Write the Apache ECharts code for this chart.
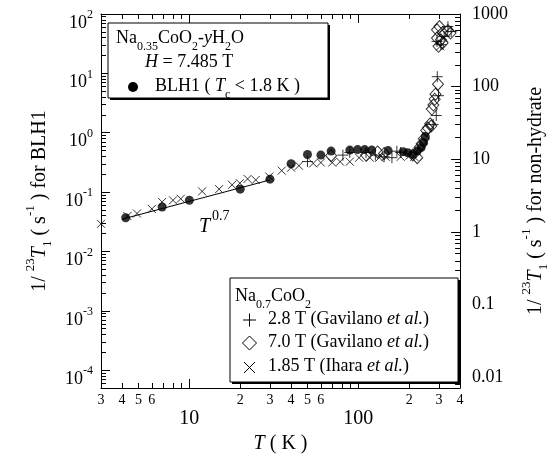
<!DOCTYPE html>
<html>
<head>
<meta charset="utf-8">
<script src="https://cdn.jsdelivr.net/npm/echarts@6.0.0/dist/echarts.min.js"></script>
<style>
  html, body { margin: 0; padding: 0; background: #fff; }
  #main { width: 558px; height: 459px; }
</style>
</head>
<body>
<div id="main"></div>
<script>
// ---- data (T in K, 1/T1 in s^-1) ----
// Na0.35CoO2-yH2O, BLH1 (left axis)
const blh1 = [
  [4.2, 0.037], [6.9, 0.056], [10, 0.073], [20, 0.112], [30, 0.165],
  [40, 0.30], [50, 0.43], [60, 0.42], [69, 0.49], [89, 0.51], [99, 0.52],
  [109, 0.52], [120, 0.51], [150, 0.50], [184, 0.48], [196, 0.46],
  [210, 0.43], [223, 0.49], [235, 0.56], [243, 0.68], [249, 0.86]
];
// T^0.7 guide line (left axis), end points
const fitLine = [[4.0, 0.035], [30, 0.16]];
// Na0.7CoO2 (right axis)
const gav28 = [
  [50, 9.3], [81, 11.4], [89, 12.4], [111, 12.4], [126, 11.4], [142, 10.8],
  [158, 10.5], [169, 12.9], [178, 12.4], [277, 30], [289, 40], [298, 75],
  [293, 137], [292, 420], [308, 378], [322, 491], [339, 671], [354, 574]
];
const gav70 = [
  [69, 11.2], [111, 11.4], [130, 12.6], [142, 12], [210, 11.4], [223, 10.5],
  [230, 14.5], [237, 16.4], [244, 19.2], [252, 24.9], [258, 26.9], [266, 30.7],
  [270, 28.6], [272, 49], [278, 55.8], [283, 67], [286, 78.7], [296, 108],
  [292, 605], [302, 671], [315, 556], [339, 592], [351, 546], [292, 467],
  [308, 442], [298, 359], [315, 399]
];
const ihara = [
  [3, 1.29], [4.3, 1.65], [4.9, 1.79], [6.0, 2.07], [6.9, 2.58], [8.0, 2.72],
  [8.9, 2.86], [11.9, 3.61], [15, 3.88], [17.9, 4.44], [19.9, 4.68],
  [22.1, 5.36], [24.7, 5.19], [29.7, 5.78], [35.2, 6.97], [40, 7.66],
  [44.5, 8.15], [54, 8.77], [60, 9.0], [70, 9.0], [78, 9.25], [89, 9.25],
  [101, 10.5], [117, 10.5], [133, 10.5], [145, 10.8], [178, 10.8],
  [201, 11.2], [214, 10.8], [305, 359], [322, 467]
];

// ---- axis ticks / labels ----
const xRange = [3, 400];
const xMinorLabels = [3, 4, 5, 6, 20, 30, 40, 50, 60, 200, 300, 400];
const xMajorLabels = [10, 100];
const leftRange = [Math.pow(10, -4.3), 100];
const leftLabels = [1e-4, 1e-3, 1e-2, 1e-1, 1, 10, 100];
const rightRange = [Math.pow(10, -2.15), 1000];
const rightLabels = [0.01, 0.1, 1, 10, 100, 1000];

const serif = 'Liberation Serif';

// minor tick positions 2..9 x 10^n inside a range
function minorTicks(range) {
  const out = [];
  const lo = Math.floor(Math.log10(range[0]));
  const hi = Math.ceil(Math.log10(range[1]));
  for (let e = lo; e <= hi; e++) {
    for (let k = 1; k <= 9; k++) {
      const v = k * Math.pow(10, e);
      if (v >= range[0] && v <= range[1]) out.push(v);
    }
  }
  return out;
}

const expOf = v => Math.round(Math.log10(v));

const supRich = {
  b: { fontFamily: serif, fontSize: 18, lineHeight: 18, padding: [9, 0, 0, 0], verticalAlign: 'top', color: '#000' },
  s: { fontFamily: serif, fontSize: 12, lineHeight: 12, padding: [4, 0, 0, 0], verticalAlign: 'top', color: '#000' }
};

const nameRich = {
  n: { fontFamily: serif, fontSize: 20, lineHeight: 20, padding: [7, 0, 0, 0], verticalAlign: 'top', color: '#000' },
  i: { fontFamily: serif, fontSize: 20, lineHeight: 20, padding: [7, 0, 0, 0], verticalAlign: 'top', fontStyle: 'italic', color: '#000' },
  p: { fontFamily: serif, fontSize: 13, lineHeight: 13, padding: [1, 0, 0, 0], verticalAlign: 'top', color: '#000' },
  d: { fontFamily: serif, fontSize: 13, lineHeight: 13, padding: [18, 0, 0, 0], verticalAlign: 'top', color: '#000' }
};

const boxRich = {
  n: { fontFamily: serif, fontSize: 18, lineHeight: 20, verticalAlign: 'top', fill: '#000' },
  i: { fontFamily: serif, fontSize: 18, lineHeight: 20, verticalAlign: 'top', fontStyle: 'italic', fill: '#000' },
  d: { fontFamily: serif, fontSize: 12, lineHeight: 12, padding: [12, 0, 0, 0], verticalAlign: 'top', fill: '#000' },
  p: { fontFamily: serif, fontSize: 14, lineHeight: 14, padding: [0, 0, 0, 2], verticalAlign: 'top', fill: '#000' },
  t: { fontFamily: serif, fontSize: 20, lineHeight: 20, padding: [8, 0, 0, 0], verticalAlign: 'top', fontStyle: 'italic', fill: '#000' }
};

const line = { lineStyle: { color: '#000', width: 1 } };

function xAxisDef(pos, major, withLabels) {
  return {
    type: 'log', min: xRange[0], max: xRange[1], position: pos,
    axisLine: { show: !major, ...line },
    axisTick: { show: true, inside: true, length: major ? 9 : 5, lineStyle: { color: '#000' },
      customValues: major ? xMajorLabels : minorTicks(xRange) },
    axisLabel: withLabels ? (major ? {
      customValues: xMajorLabels, margin: 21, fontFamily: serif, fontSize: 20, color: '#000'
    } : {
      customValues: xMinorLabels, margin: 5, fontFamily: serif, fontSize: 14, color: '#000',
      formatter: v => String(Math.round(v / Math.pow(10, Math.floor(Math.log10(v) + 1e-9))))
    }) : { show: false },
    splitLine: { show: false }
  };
}

function yAxisDef(pos, range, labels, major, withLabels) {
  const base = {
    type: 'log', min: range[0], max: range[1], position: pos,
    axisLine: { show: !major, ...line },
    axisTick: { show: true, inside: true, length: major ? 9 : 5, lineStyle: { color: '#000' },
      customValues: major ? labels : minorTicks(range) },
    axisLabel: { show: false },
    splitLine: { show: false }
  };
  if (withLabels) {
    if (pos === 'left') {
      base.axisLabel = {
        customValues: labels, margin: 8, rich: supRich,
        formatter: v => '{b|10}{s|' + expOf(v) + '}'
      };
      base.name = '{n|1/ }{p|23}{i|T}{d|1}{n| ( s}{p|-1}{n| ) for BLH1}';
      base.nameGap = 56;
    } else {
      base.axisLabel = {
        customValues: labels, margin: 12, fontFamily: serif, fontSize: 18, color: '#000',
        formatter: v => { const e = expOf(v); return e < 0 ? v.toFixed(-e) : String(Math.pow(10, e)); }
      };
      base.name = '{n|1/ }{p|23}{i|T}{d|1}{n| ( s}{p|-1}{n| ) for non-hydrate}';
      base.nameGap = 50;
    }
    base.nameLocation = 'middle';
    base.nameTextStyle = { rich: nameRich };
  }
  return base;
}

const xAxes = [
  xAxisDef('bottom', false, true),
  xAxisDef('bottom', true, true),
  xAxisDef('top', false, false),
  xAxisDef('top', true, false)
];
xAxes[0].name = '{i|T}{n| ( K )}';
xAxes[0].nameLocation = 'middle';
xAxes[0].nameGap = 46;
xAxes[0].nameTextStyle = {
  rich: {
    n: { fontFamily: serif, fontSize: 20, color: '#000' },
    i: { fontFamily: serif, fontSize: 20, fontStyle: 'italic', color: '#000' }
  }
};

const yAxes = [
  yAxisDef('left', leftRange, leftLabels, false, true),
  yAxisDef('left', leftRange, leftLabels, true, false),
  yAxisDef('right', rightRange, rightLabels, false, true),
  yAxisDef('right', rightRange, rightLabels, true, false)
];

const plusPath = 'path://M0,5L10,5M5,0L5,10';
const crossPath = 'path://M0,0L10,10M10,0L0,10';
const openStyle = { color: 'rgba(0,0,0,0)', borderColor: '#000', borderWidth: 1 };

// legend box helpers
const stroke = { stroke: '#000', lineWidth: 1 };
function box(x, y, w, h) {
  return [
    { type: 'rect', z: 10, shape: { x: x + 2, y: y + 2, width: w, height: h }, style: { fill: '#000' } },
    { type: 'rect', z: 11, shape: { x: x, y: y, width: w, height: h }, style: { fill: '#fff', ...stroke } }
  ];
}
function txt(x, y, text) {
  return { type: 'text', z: 12, x: x, y: y - 10, style: { text: text, rich: boxRich, align: 'left', verticalAlign: 'top', fill: '#000' } };
}

const graphics = [].concat(
  box(108, 23, 220, 75),
  txt(116, 39, '{n|Na}{d|0.35}{n|CoO}{d|2}{n|-}{i|y}{n|H}{d|2}{n|O}'),
  txt(145, 63, '{i|H}{n| = 7.485 T}'),
  [{ type: 'circle', z: 12, shape: { cx: 133, cy: 87, r: 5 }, style: { fill: '#000' } }],
  txt(155, 87, '{n|BLH1 ( }{i|T}{d|c}{n| < 1.8 K )}'),
  box(230, 278, 228, 104),
  txt(235, 297, '{n|Na}{d|0.7}{n|CoO}{d|2}'),
  [
    { type: 'line', z: 12, shape: { x1: 243, y1: 320, x2: 256, y2: 320 }, style: stroke },
    { type: 'line', z: 12, shape: { x1: 249.5, y1: 313.5, x2: 249.5, y2: 326.5 }, style: stroke },
    { type: 'polygon', z: 12, shape: { points: [[249.5, 336], [256.5, 343], [249.5, 350], [242.5, 343]] }, style: { fill: 'none', ...stroke } },
    { type: 'line', z: 12, shape: { x1: 244, y1: 362, x2: 255, y2: 373 }, style: stroke },
    { type: 'line', z: 12, shape: { x1: 255, y1: 362, x2: 244, y2: 373 }, style: stroke }
  ],
  txt(268, 320, '{n|2.8 T (Gavilano }{i|et al.}{n|)}'),
  txt(268, 343, '{n|7.0 T (Gavilano }{i|et al.}{n|)}'),
  txt(268, 367, '{n|1.85 T (Ihara }{i|et al.}{n|)}'),
  [{ type: 'text', z: 12, x: 199, y: 209, style: { text: '{t|T}{p|0.7}', rich: boxRich, align: 'left', verticalAlign: 'top' } }]
);

const chart = echarts.init(document.getElementById('main'), null, { renderer: 'canvas' });
chart.setOption({
  backgroundColor: '#fff',
  animation: false,
  textStyle: { fontFamily: serif, color: '#000' },
  grid: { left: 101, right: 78, top: 14, bottom: 67, containLabel: false },
  xAxis: xAxes,
  yAxis: yAxes,
  series: [
    { name: 'fit', type: 'line', xAxisIndex: 0, yAxisIndex: 0, data: fitLine, symbol: 'none',
      lineStyle: { color: '#000', width: 1 }, silent: true, clip: false },
    { name: 'BLH1', type: 'scatter', xAxisIndex: 0, yAxisIndex: 0, data: blh1, symbol: 'circle',
      symbolSize: 9, itemStyle: { color: '#000' }, silent: true, clip: false },
    { name: '2.8 T', type: 'scatter', xAxisIndex: 0, yAxisIndex: 2, data: gav28, symbol: plusPath,
      symbolSize: 11, itemStyle: openStyle, silent: true, clip: false },
    { name: '7.0 T', type: 'scatter', xAxisIndex: 0, yAxisIndex: 2, data: gav70, symbol: 'diamond',
      symbolSize: [11, 12], itemStyle: openStyle, silent: true, clip: false },
    { name: '1.85 T', type: 'scatter', xAxisIndex: 0, yAxisIndex: 2, data: ihara, symbol: crossPath,
      symbolSize: 8, itemStyle: openStyle, silent: true, clip: false }
  ],
  graphic: graphics
});
</script>
</body>
</html>
